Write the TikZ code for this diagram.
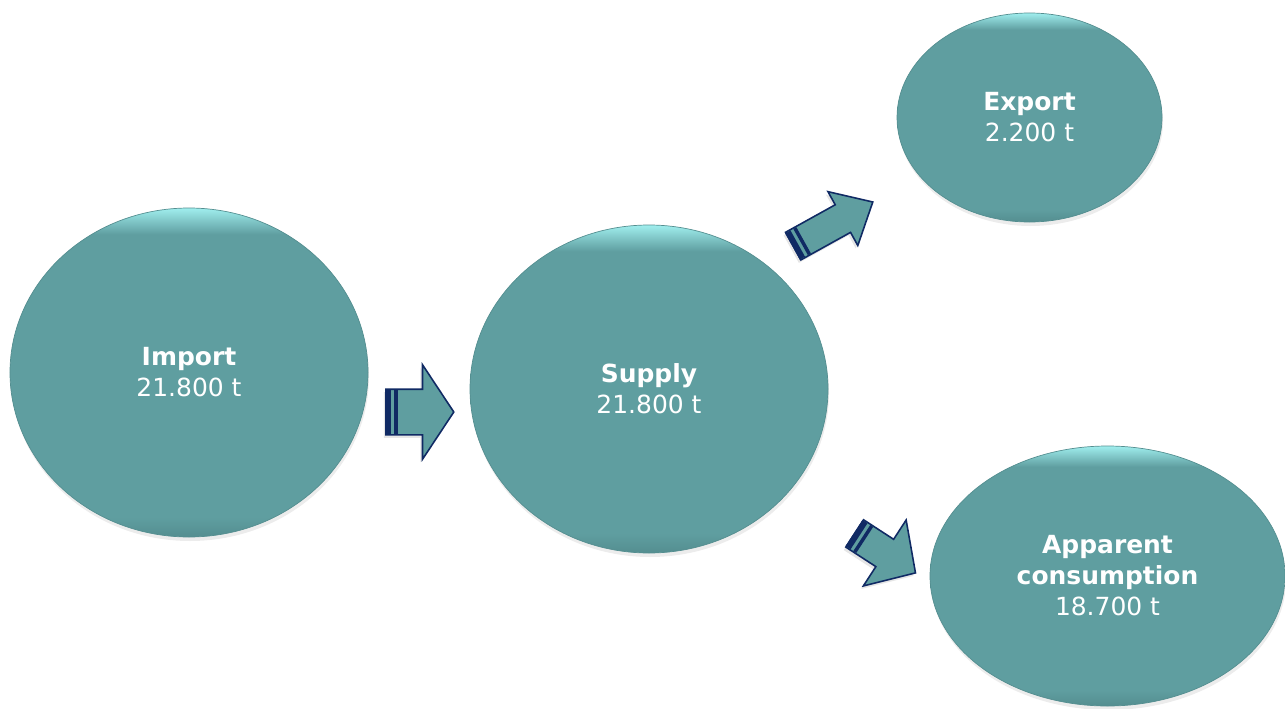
\documentclass[tikz,border=0pt]{standalone}
\usepackage{fontspec}
\setmainfont{DejaVu Sans}
\usetikzlibrary{shapes.geometric,shapes.arrows,shadows,calc}
\definecolor{tealmain}{RGB}{95,158,160}
\definecolor{tealhi}{RGB}{160,238,238}
\definecolor{tealdk}{RGB}{84,142,144}
\definecolor{navyline}{RGB}{16,42,100}
\pgfdeclareverticalshading{capshade}{100bp}{color(0bp)=(tealdk); color(25bp)=(tealdk); color(28bp)=(tealmain); color(71bp)=(tealmain); color(75bp)=(tealhi); color(100bp)=(tealhi)}

\begin{document}
\begin{tikzpicture}[every node/.style={font=\fontsize{14.2}{17.6}\selectfont, text=white, align=center}]
\tikzset{blob/.style={ellipse, inner sep=0pt, draw=tealdk, line width=0.4pt, shade, shading=capshade, drop shadow={opacity=0.15, shadow xshift=0.02cm, shadow yshift=-0.08cm}}}
\tikzset{flow/.style={single arrow, draw=navyline, line width=0.9pt, fill=tealmain, inner xsep=0pt, anchor=tail, drop shadow={opacity=0.2, shadow xshift=-0.04cm, shadow yshift=-0.06cm}}}
\useasboundingbox (0,0) rectangle (25.7,14.16);
% quantities
\node[blob, minimum width=7.16cm, minimum height=6.58cm] (imp) at (3.78,6.71) {\textbf{Import}\\21.800 t};
\node[blob, minimum width=7.16cm, minimum height=6.56cm] (sup) at (12.98,6.38) {\textbf{Supply}\\21.800 t};
\node[blob, minimum width=5.3cm, minimum height=4.18cm] (exp) at (20.59,11.81) {\textbf{Export}\\2.200 t};
\node[blob, minimum width=7.1cm, minimum height=5.2cm] (app) at (22.15,2.64) {\textbf{Apparent}\\\textbf{consumption}\\18.700 t};
% flows
\node[flow, minimum height=1.36cm, inner ysep=0.44cm, single arrow head extend=0.49cm, single arrow tip angle=113] (ar1) at (7.70,5.92) {};
\node[flow, rotate=29, minimum height=1.82cm, inner ysep=0.3cm, single arrow head extend=0.3cm, single arrow tip angle=84] (ar2) at (15.85,9.23) {};
\node[flow, rotate=-33, minimum height=1.45cm, inner ysep=0.31cm, single arrow head extend=0.46cm, single arrow tip angle=94] (ar3) at (17.08,3.50) {};
\foreach \arr/\hw in {ar1/0.44cm, ar2/0.3cm, ar3/0.31cm} {
  \coordinate (p) at ($(\arr.tail)!0.06cm!(\arr.tip)$);
  \draw[navyline, line width=0.12cm] ($(p)!\hw!90:(\arr.tip)$) -- ($(p)!\hw!-90:(\arr.tip)$);
  \coordinate (p) at ($(\arr.tail)!0.22cm!(\arr.tip)$);
  \draw[navyline, line width=0.07cm] ($(p)!\hw!90:(\arr.tip)$) -- ($(p)!\hw!-90:(\arr.tip)$);
}
\end{tikzpicture}
\end{document}
